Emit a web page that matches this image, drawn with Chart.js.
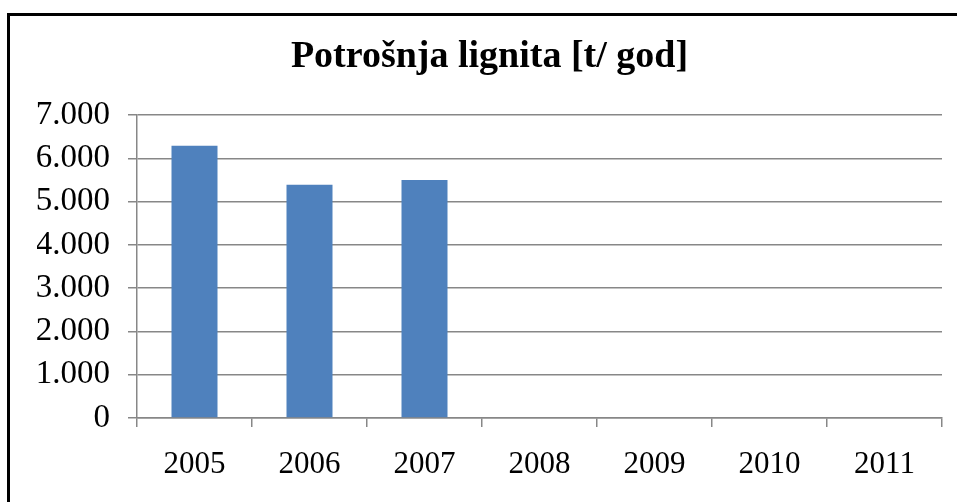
<!DOCTYPE html>
<html>
<head>
<meta charset="utf-8">
<script src="https://cdn.jsdelivr.net/npm/chart.js@4"></script>
<style>
  body { margin: 0; background: #fff; }
  #frame {
    position: absolute; left: 7px; top: 13px;
    width: 950px; height: 489px;
    border-left: 3px solid #000; border-top: 3px solid #000;
  }
</style>
</head>
<body>
<div id="frame"><canvas id="lignitChart"></canvas></div>
<script>
const years = ['2005', '2006', '2007', '2008', '2009', '2010', '2011'];
const lignite = [6290, 5390, 5500, null, null, null, null];
const yTicks = [0, 1000, 2000, 3000, 4000, 5000, 6000, 7000];

const serif = '"Liberation Serif", "Times New Roman", serif';
const gridGray = '#878787';

function dotThousands(v) {
  return v.toString().replace(/\B(?=(\d{3})+(?!\d))/g, '.');
}

const ctx = document.getElementById('lignitChart').getContext('2d');
const lignitChart = new Chart(ctx, {
  type: 'bar',
  data: {
    labels: years,
    datasets: [{
      label: 'Potrošnja lignita',
      data: lignite,
      backgroundColor: '#4F81BD',
      borderWidth: 0,
      categoryPercentage: 1,
      barPercentage: 0.4
    }]
  },
  options: {
    responsive: true,
    maintainAspectRatio: false,
    animation: false,
    layout: { padding: { left: 27, right: 18, top: 18, bottom: 0 } },
    plugins: {
      legend: { display: false },
      tooltip: { enabled: false },
      title: {
        display: true,
        text: 'Potrošnja lignita [t/ god]',
        color: '#000',
        font: { family: serif, size: 38, weight: 'bold' },
        padding: { top: 0, bottom: 35.4 }
      }
    },
    scales: {
      x: {
        grid: {
          display: true,
          drawOnChartArea: false,
          drawTicks: true,
          tickLength: 9,
          color: gridGray,
          lineWidth: 1.5,
          offset: true
        },
        border: { color: gridGray, width: 1.5 },
        ticks: {
          color: '#000',
          font: { family: serif, size: 31 },
          padding: 19,
          maxRotation: 0
        },
        afterFit: (scale) => { scale.height = 87; }
      },
      y: {
        min: 0,
        max: 7000,
        afterBuildTicks: (scale) => { scale.ticks = yTicks.map(v => ({ value: v })); },
        grid: {
          color: gridGray,
          lineWidth: 1.5,
          tickLength: 9
        },
        border: { color: gridGray, width: 1.5 },
        ticks: {
          color: '#000',
          font: { family: serif, size: 33 },
          padding: 18,
          callback: (v) => dotThousands(v)
        },
        afterFit: (scale) => { scale.width = 100; }
      }
    }
  }
});
</script>
</body>
</html>
